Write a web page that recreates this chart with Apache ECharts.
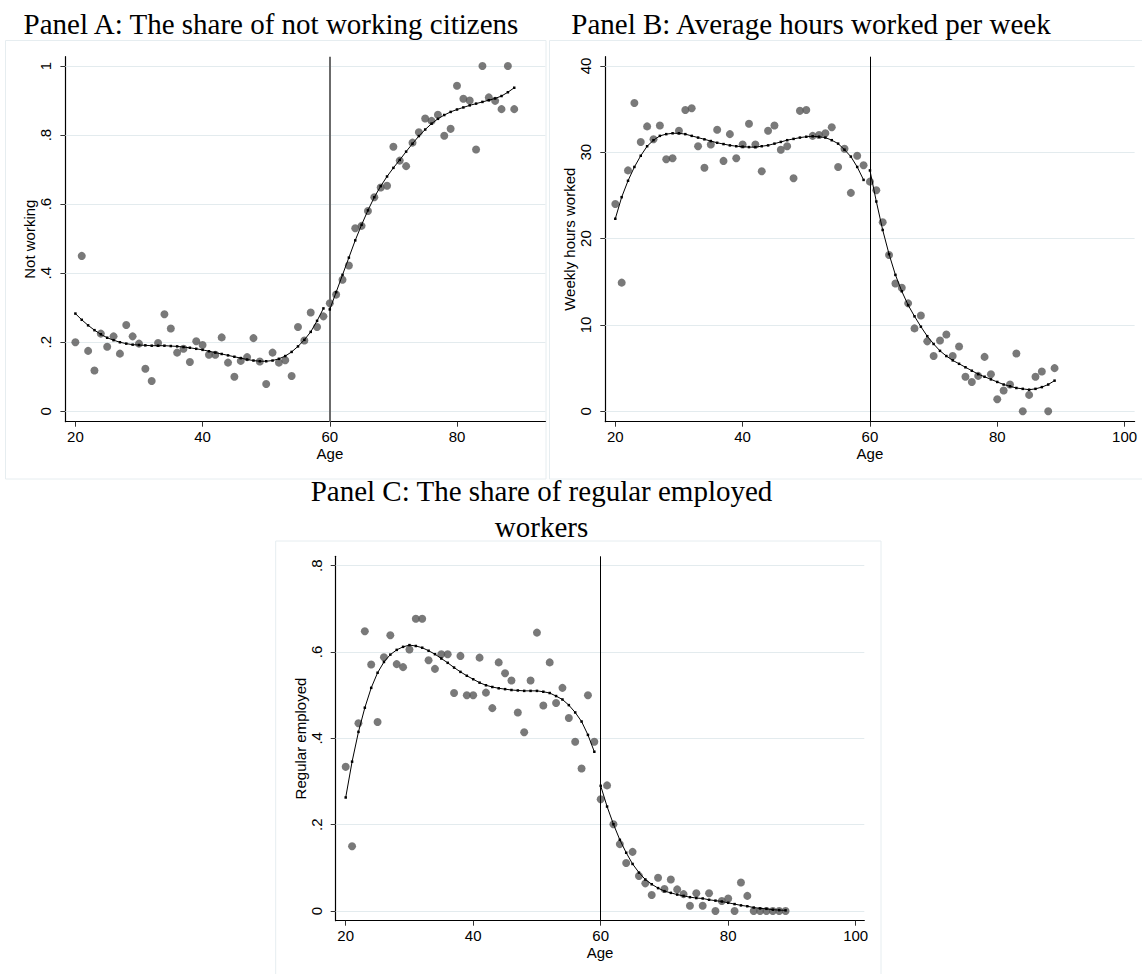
<!DOCTYPE html>
<html>
<head>
<meta charset="utf-8">
<script src="https://cdn.jsdelivr.net/npm/echarts@6/dist/echarts.min.js"></script>
<style>
html,body{margin:0;padding:0;background:#ffffff;}
#chart{width:1142px;height:974px;}
</style>
</head>
<body>
<div id="chart"></div>
<script>
// ---------------- DATA ----------------
const ages = [20,21,22,23,24,25,26,27,28,29,30,31,32,33,34,35,36,37,38,39,40,41,42,43,44,45,46,47,48,49,50,51,52,53,54,55,56,57,58,59,60,61,62,63,64,65,66,67,68,69,70,71,72,73,74,75,76,77,78,79,80,81,82,83,84,85,86,87,88,89];
const fitAgesLeft = [20,21,22,23,24,25,26,27,28,29,30,31,32,33,34,35,36,37,38,39,40,41,42,43,44,45,46,47,48,49,50,51,52,53,54,55,56,57,58,59];
const fitAgesRight = [60,61,62,63,64,65,66,67,68,69,70,71,72,73,74,75,76,77,78,79,80,81,82,83,84,85,86,87,88,89];
const cutoffAge = 60;

// Panel A: share not working
const notWorking = [0.200,0.450,0.175,0.118,0.225,0.187,0.217,0.167,0.250,0.217,
  0.196,0.123,0.088,0.198,0.281,0.240,0.170,0.181,0.143,0.203,
  0.192,0.164,0.164,0.214,0.141,0.100,0.146,0.157,0.212,0.144,
  0.079,0.170,0.141,0.148,0.102,0.244,0.205,0.286,0.244,0.275,
  0.313,0.338,0.381,0.422,0.530,0.537,0.580,0.620,0.648,0.653,
  0.766,0.726,0.710,0.778,0.808,0.848,0.841,0.859,0.798,0.818,
  0.943,0.905,0.900,0.758,1.000,0.909,0.899,0.875,1.000,0.875];
const notWorkingFitLeft = [0.283,0.265,0.249,0.235,0.223,0.213,0.206,0.200,0.196,0.193,
  0.192,0.191,0.190,0.190,0.190,0.189,0.188,0.186,0.184,0.181,
  0.178,0.174,0.170,0.166,0.162,0.158,0.154,0.150,0.147,0.145,
  0.145,0.147,0.152,0.160,0.172,0.188,0.207,0.230,0.262,0.298];
const notWorkingFitRight = [0.295,0.345,0.395,0.445,0.495,0.540,0.582,0.620,0.652,0.680,
  0.705,0.728,0.752,0.775,0.797,0.816,0.833,0.847,0.858,0.867,
  0.874,0.880,0.886,0.891,0.896,0.901,0.906,0.913,0.924,0.937];

// Panel B: weekly hours worked
const hoursWorked = [24.0,14.9,27.9,35.7,31.2,33.0,31.5,33.1,29.2,29.3,
  32.5,34.9,35.1,30.7,28.2,30.9,32.6,29.0,32.1,29.3,
  30.9,33.3,30.9,27.8,32.5,33.1,30.3,30.7,27.0,34.8,
  34.9,31.9,32.0,32.2,32.9,28.3,30.4,25.3,29.6,28.5,
  26.6,25.6,21.9,18.1,14.8,14.3,12.5,9.6,11.1,8.1,
  6.4,8.2,8.9,6.4,7.5,4.0,3.4,4.1,6.3,4.3,
  1.4,2.4,3.1,6.7,0.0,1.9,4.0,4.6,0.0,5.0];
const hoursFitLeft = [22.3,24.8,26.7,28.3,29.6,30.7,31.4,31.9,32.1,32.2,
  32.2,32.1,31.9,31.7,31.5,31.3,31.1,30.95,30.8,30.7,
  30.65,30.6,30.6,30.7,30.8,31.0,31.2,31.4,31.55,31.7,
  31.8,31.85,31.8,31.7,31.4,31.0,30.3,29.5,28.3,26.8];
const hoursFitRight = [27.9,24.3,21.0,18.2,15.8,13.9,12.3,11.0,9.8,8.7,
  7.8,7.0,6.4,5.9,5.5,5.1,4.7,4.3,4.0,3.7,
  3.4,3.1,2.9,2.7,2.6,2.5,2.6,2.8,3.1,3.55];

// Panel C: share regular employed
const regularEmployed = [0.334,0.150,0.435,0.648,0.571,0.438,0.588,0.639,0.572,0.565,
  0.606,0.677,0.677,0.581,0.561,0.595,0.595,0.505,0.591,0.500,
  0.500,0.587,0.506,0.470,0.576,0.551,0.534,0.460,0.414,0.534,
  0.645,0.476,0.576,0.482,0.517,0.447,0.392,0.330,0.500,0.392,
  0.259,0.291,0.201,0.155,0.111,0.137,0.081,0.064,0.037,0.077,
  0.051,0.073,0.050,0.039,0.012,0.041,0.012,0.041,0.000,0.023,
  0.029,0.000,0.066,0.035,0.000,0.000,0.000,0.000,0.000,0.000];
const regularFitLeft = [0.263,0.346,0.415,0.471,0.517,0.552,0.577,0.594,0.605,0.612,
  0.616,0.614,0.610,0.603,0.595,0.585,0.575,0.564,0.554,0.545,
  0.537,0.529,0.523,0.519,0.516,0.514,0.512,0.511,0.510,0.510,
  0.510,0.508,0.505,0.498,0.490,0.477,0.460,0.439,0.408,0.369];
const regularFitRight = [0.290,0.242,0.201,0.165,0.135,0.109,0.089,0.073,0.062,0.053,
  0.046,0.042,0.038,0.035,0.032,0.030,0.029,0.026,0.024,0.022,
  0.019,0.016,0.013,0.011,0.008,0.006,0.005,0.003,0.002,0.0015];

// Tick values and labels
const xTicksA = [20,40,60,80];
const xTicksBC = [20,40,60,80,100];
const yTicksA = [0,0.2,0.4,0.6,0.8,1];
const yTickLabelsA = ['0','.2','.4','.6','.8','1'];
const yTicksB = [0,10,20,30,40];
const yTickLabelsB = ['0','10','20','30','40'];
const yTicksC = [0,0.2,0.4,0.6,0.8];
const yTickLabelsC = ['0','.2','.4','.6','.8'];

const titles = ['Panel A: The share of not working citizens',
                'Panel B: Average hours worked per week',
                'Panel C: The share of regular employed',
                'workers'];
const yNames = ['Not working','Weekly hours worked','Regular employed'];
const xName = 'Age';

// ---------------- STYLE ----------------
const sans = 'Liberation Sans';
const serif = 'Liberation Serif';
const gridColor = '#e3ebee';
const frameColor = '#e6edf0';
const markerColor = '#585858';

function pairs(xs, ys){ return xs.map((x,i)=>[x, ys[i]]); }
function labelFor(ticks, labels){
  return function(v){
    for (let i=0;i<ticks.length;i++){ if (Math.abs(ticks[i]-v) < 1e-9) return labels[i]; }
    return '';
  };
}

function makeX(gi, min, max, ticks, padLeft){
  return {
    gridIndex: gi, type: 'value', min: min, max: max,
    axisLine: {show:true, onZero:false, lineStyle:{color:'#000', width:1.2}},
    axisTick: {show:true, inside:false, length:5, lineStyle:{color:'#333', width:1}, customValues: ticks},
    axisLabel: {show:true, customValues: ticks, margin:7.5, color:'#000', fontFamily:sans, fontSize:15,
                formatter: function(v){ return String(v); }},
    splitLine: {show:false},
    name: xName, nameLocation:'middle', nameGap:24, nameMoveOverlap:false,
    nameTextStyle: {color:'#000', fontFamily:sans, fontSize:15, padding:[0,0,0,padLeft||0]}
  };
}
function makeY(gi, min, max, ticks, labels, name){
  return {
    gridIndex: gi, type: 'value', min: min, max: max,
    axisLine: {show:true, onZero:false, lineStyle:{color:'#000', width:1.2}},
    axisTick: {show:true, inside:false, length:5, lineStyle:{color:'#333', width:1}, customValues: ticks},
    axisLabel: {show:true, customValues: ticks, rotate:90, margin:12, color:'#000', fontFamily:sans, fontSize:15,
                formatter: labelFor(ticks, labels)},
    splitLine: {show:false},
    name: name, nameLocation:'middle', nameGap:28, nameMoveOverlap:false,
    nameTextStyle: {color:'#000', fontFamily:sans, fontSize:15}
  };
}

function panelSeries(gi, vals, fitL, fitR, yTicks, cutStyle){
  return [
    {
      type:'scatter', xAxisIndex:gi, yAxisIndex:gi, z:2,
      data: pairs(ages, vals), symbol:'circle', symbolSize:8,
      itemStyle:{color:markerColor}, emphasis:{disabled:true}, silent:true,
      markLine:{
        silent:true, symbol:['none','none'], z:1, animation:false,
        label:{show:false}, emphasis:{disabled:true},
        lineStyle:{color:gridColor, width:1, type:'solid'},
        data: yTicks.map(v=>({yAxis:v}))
      }
    },
    {
      type:'line', xAxisIndex:gi, yAxisIndex:gi, z:4,
      data: pairs(fitAgesLeft, fitL), symbol:'rect', symbolSize:2.5, showSymbol:true,
      lineStyle:{color:'#000', width:1}, itemStyle:{color:'#000'},
      emphasis:{disabled:true}, silent:true,
      markLine:{
        silent:true, symbol:['none','none'], z:3, animation:false,
        label:{show:false}, emphasis:{disabled:true},
        lineStyle:cutStyle,
        data:[{xAxis:cutoffAge}]
      }
    },
    {
      type:'line', xAxisIndex:gi, yAxisIndex:gi, z:4,
      data: pairs(fitAgesRight, fitR), symbol:'rect', symbolSize:2.5, showSymbol:true,
      lineStyle:{color:'#000', width:1}, itemStyle:{color:'#000'},
      emphasis:{disabled:true}, silent:true
    }
  ];
}

const chart = echarts.init(document.getElementById('chart'), null, {renderer:'svg', width:1142, height:974});

const option = {
  animation:false,
  backgroundColor:'#ffffff',
  grid:[
    {left:65.4, top:56.7, width:480, height:365, outerBoundsMode:'none', containLabel:false},
    {left:605.3, top:56.7, width:529.3, height:365, outerBoundsMode:'none', containLabel:false},
    {left:335.7, top:556.3, width:528.6, height:364.4, outerBoundsMode:'none', containLabel:false}
  ],
  xAxis:[
    makeX(0, 18.43, 93.9, xTicksA, 49),
    makeX(1, 18.43, 101.57, xTicksBC, 0),
    makeX(2, 18.43, 101.35, xTicksBC, 0)
  ],
  yAxis:[
    makeY(0, -0.0301, 1.0269, yTicksA, yTickLabelsA, yNames[0]),
    makeY(1, -1.205, 41.07, yTicksB, yTickLabelsB, yNames[1]),
    makeY(2, -0.0225, 0.8218, yTicksC, yTickLabelsC, yNames[2])
  ],
  series: [].concat(
    panelSeries(0, notWorking, notWorkingFitLeft, notWorkingFitRight, yTicksA, {color:'#6b6b6b', width:2, type:'solid'}),
    panelSeries(1, hoursWorked, hoursFitLeft, hoursFitRight, yTicksB, {color:'#000', width:1, type:'solid'}),
    panelSeries(2, regularEmployed, regularFitLeft, regularFitRight, yTicksC, {color:'#000', width:1, type:'solid'})
  ),
  graphic:[
    {type:'rect', silent:true, z:0, shape:{x:5.5, y:40.5, width:540.5, height:438.5},
     style:{fill:'none', stroke:frameColor, lineWidth:1}},
    {type:'rect', silent:true, z:0, shape:{x:549.5, y:40.5, width:600, height:438.5},
     style:{fill:'none', stroke:frameColor, lineWidth:1}},
    {type:'rect', silent:true, z:0, shape:{x:275.7, y:541, width:605.3, height:440},
     style:{fill:'none', stroke:frameColor, lineWidth:1}},
    {type:'text', silent:true, z:10, x:271, y:24,
     style:{text:titles[0], fill:'#000', fontFamily:serif, fontSize:29, font:'29px "Liberation Serif"',
            align:'center', verticalAlign:'middle', textAlign:'center', textVerticalAlign:'middle'}},
    {type:'text', silent:true, z:10, x:811, y:24,
     style:{text:titles[1], fill:'#000', fontFamily:serif, fontSize:29, font:'29px "Liberation Serif"',
            align:'center', verticalAlign:'middle', textAlign:'center', textVerticalAlign:'middle'}},
    {type:'text', silent:true, z:10, x:541.5, y:491,
     style:{text:titles[2], fill:'#000', fontFamily:serif, fontSize:29, font:'29px "Liberation Serif"',
            align:'center', verticalAlign:'middle', textAlign:'center', textVerticalAlign:'middle'}},
    {type:'text', silent:true, z:10, x:541.5, y:527,
     style:{text:titles[3], fill:'#000', fontFamily:serif, fontSize:29, font:'29px "Liberation Serif"',
            align:'center', verticalAlign:'middle', textAlign:'center', textVerticalAlign:'middle'}}
  ]
};
chart.setOption(option);
</script>
</body>
</html>
